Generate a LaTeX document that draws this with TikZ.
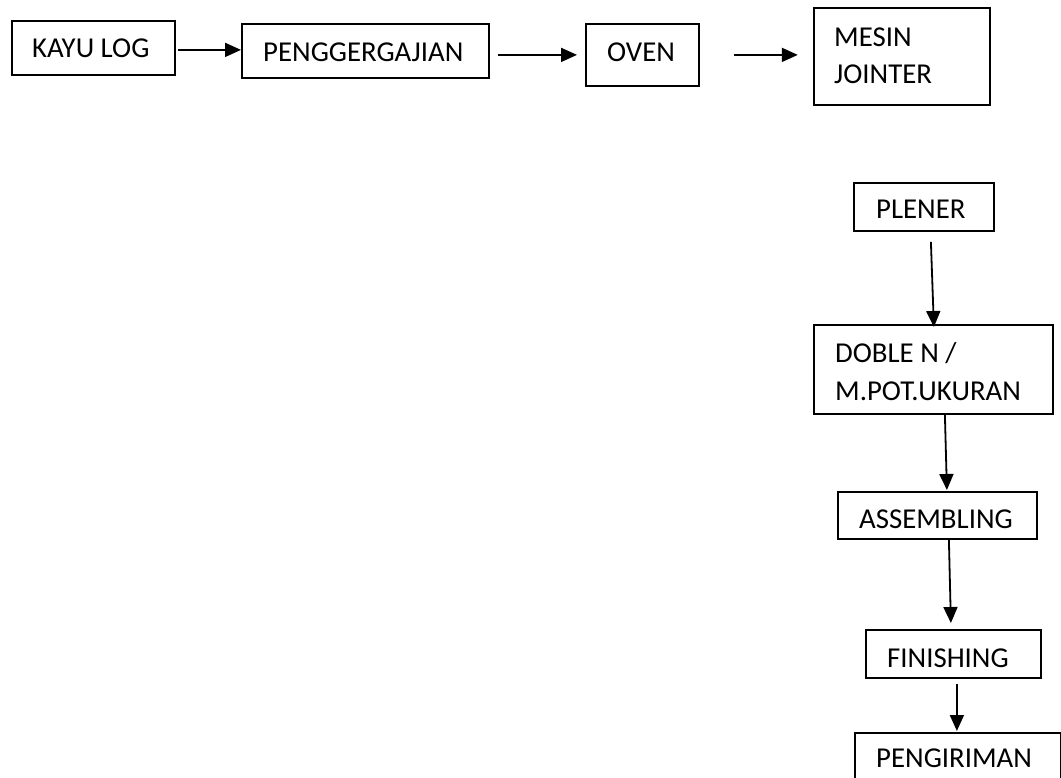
\documentclass[tikz,border=0pt]{standalone}
\usepackage{fontspec}
\setmainfont{Carlito}
\usetikzlibrary{arrows.meta,calc}
\tikzset{
  box/.style={draw=black, line width=1.8pt, inner sep=0pt, anchor=north west},
  lbl/.style={inner sep=0pt, anchor=base west, font=\fontsize{28.8}{34}\selectfont},
  flow/.style={line width=1.8pt, -{Triangle[length=16pt,width=14pt]}}
}
\begin{document}
\begin{tikzpicture}[x=1pt,y=-1pt]
\useasboundingbox (0,0) rectangle (1061,778);
\clip (0,0) rectangle (1061,778);
% boxes
\node[box, minimum width=163pt, minimum height=54pt] (kayu) at (11,20) {};
\node[box, minimum width=247pt, minimum height=54pt] (gergaji) at (241,23) {};
\node[box, minimum width=113pt, minimum height=62pt] (oven) at (585,23) {};
\node[box, minimum width=176pt, minimum height=97pt] (jointer) at (813,7) {};
\node[box, minimum width=140pt, minimum height=48pt] (plener) at (853,182) {};
\node[box, minimum width=239pt, minimum height=89pt] (doble) at (813,324) {};
\node[box, minimum width=199pt, minimum height=47pt] (assem) at (837,491) {};
\node[box, minimum width=175pt, minimum height=48pt] (finish) at (865,629) {};
\node[box, minimum width=206pt, minimum height=80pt] (kirim) at (854,732) {};
% labels
\node[lbl] (tkayu) at (32,58) {KAYU LOG};
\node[lbl] (tgergaji) at (263,62) {PENGGERGAJIAN};
\node[lbl] (toven) at (607,62) {OVEN};
\node[lbl] (tmesin) at (834,47) {MESIN};
\node[lbl] (tjointer) at (834,84) {JOINTER};
\node[lbl] (tplener) at (876,219) {PLENER};
\node[lbl] (tdoble) at (835,362) {DOBLE N /};
\node[lbl] (tpot) at (835,400) {M.POT.UKURAN};
\node[lbl] (tassem) at (859,528) {ASSEMBLING};
\node[lbl] (tfinish) at (887,667) {FINISHING};
\node[lbl] (tkirim) at (876,767) {PENGIRIMAN};
% connectors
\draw[flow] ($(kayu.east)+(2,2)$) -- ($(gergaji.west)+(0,-1)$);
\draw[flow] ($(gergaji.east)+(8,4)$) -- ($(oven.west)+(-8,0)$);
\draw[flow] ($(oven.east)+(34,0)$) -- ($(oven.east)+(98,0)$);
\draw[flow] ($(plener.south)+(7,10)$) -- ($(doble.north)+(0.5,3)$);
\draw[flow] ($(doble.south)+(11.5,0)$) -- ($(assem.north)+(9.5,-1)$);
\draw[flow] ($(assem.south)+(11.5,0)$) -- ($(finish.north)+(-2.5,-6)$);
\draw[flow] ($(finish.south)+(3.5,5)$) -- ($(kirim.north)+(-1,-1)$);
\end{tikzpicture}
\end{document}
